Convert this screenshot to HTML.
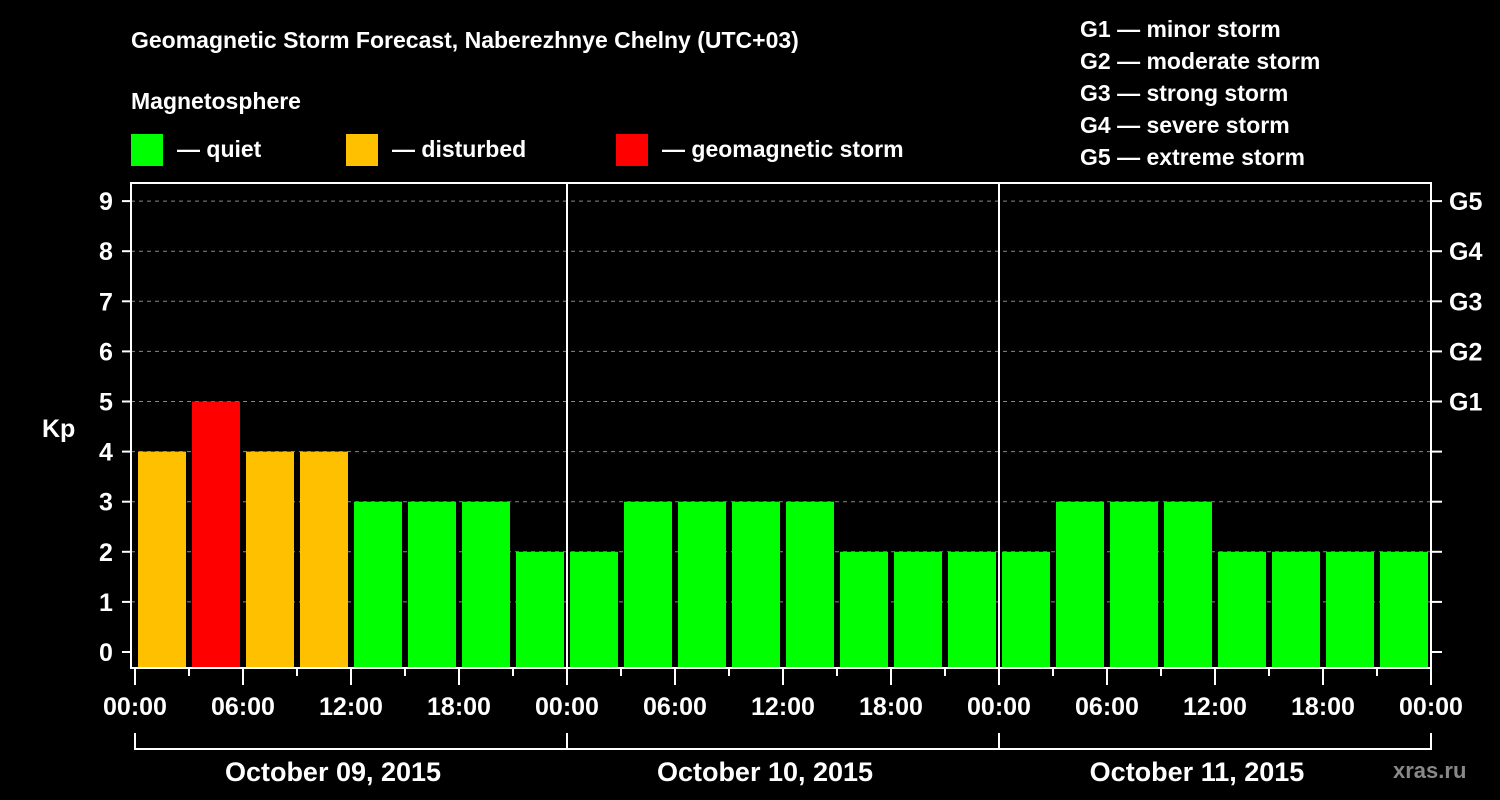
<!DOCTYPE html>
<html><head><meta charset="utf-8"><style>
html,body{margin:0;padding:0;background:#000;}
svg{display:block;font-family:"Liberation Sans",Arial,sans-serif;font-weight:bold;}
</style></head><body>
<svg id="chart" width="1500" height="800" viewBox="0 0 1500 800">
<rect width="1500" height="800" fill="#000"/>
<text x="131" y="48" fill="#fff" font-size="23">Geomagnetic Storm Forecast, Naberezhnye Chelny (UTC+03)</text>
<text x="131" y="109" fill="#fff" font-size="23">Magnetosphere</text>
<g><rect x="131" y="134" width="32" height="32" fill="#00ff00"/><text x="177" y="157" fill="#fff" font-size="23">— quiet</text></g>
<g><rect x="346" y="134" width="32" height="32" fill="#ffc000"/><text x="392" y="157" fill="#fff" font-size="23">— disturbed</text></g>
<g><rect x="616" y="134" width="32" height="32" fill="#ff0000"/><text x="662" y="157" fill="#fff" font-size="23">— geomagnetic storm</text></g>
<g fill="#fff" font-size="23">
<text x="1080" y="37">G1 — minor storm</text>
<text x="1080" y="69">G2 — moderate storm</text>
<text x="1080" y="101">G3 — strong storm</text>
<text x="1080" y="133">G4 — severe storm</text>
<text x="1080" y="165">G5 — extreme storm</text>
</g>
<text x="42" y="437" fill="#fff" font-size="25">Kp</text>
<text x="1393" y="778" fill="#888" font-size="22">xras.ru</text>
<g id="grid"></g><g id="bars"></g><g id="axes"></g>
</svg>
<script>
const kpValues = [4,5,4,4,3,3,3,2, 2,3,3,3,3,2,2,2, 2,3,3,3,2,2,2,2];
const dayLabels = ["October 09, 2015","October 10, 2015","October 11, 2015"];
const hourLabels = ["00:00","06:00","12:00","18:00"];
const gLabels = ["G1","G2","G3","G4","G5"];
const yTicks = [0,1,2,3,4,5,6,7,8,9];

const NS="http://www.w3.org/2000/svg";
const X0=135, DAYW=432, SLOT=54;
const yScale=v=>652-v*50.1;
const xScale=h=>X0+h*(DAYW/24);
const BOTTOM=668, TOP=183, LEFT=131, RIGHT=1431;
function mk(tag,attrs,parent,txt){const e=document.createElementNS(NS,tag);for(const k in attrs)e.setAttribute(k,attrs[k]);if(txt!==undefined)e.textContent=txt;parent.appendChild(e);return e;}
const grid=document.getElementById('grid'),bars=document.getElementById('bars'),axes=document.getElementById('axes');

yTicks.forEach(v=>{
  const y=yScale(v);
  if(v>=1){const l=mk('line',{x1:LEFT,x2:RIGHT,y1:y,y2:y,stroke:'#888','stroke-width':1,'stroke-dasharray':'4,4'},grid);
  
  }
  const t=mk('line',{x1:122,x2:LEFT,y1:y,y2:y,stroke:'#fff','stroke-width':2},axes);
  
  
  const tr=mk('line',{x1:RIGHT,x2:1442,y1:y,y2:y,stroke:'#fff','stroke-width':2},axes);
  
  
  const lb=mk('text',{x:106,y:y+9,fill:'#fff','font-size':25,'text-anchor':'middle'},axes,String(v));
  
  
});
gLabels.forEach((g,i)=>{
  const lb=mk('text',{x:1449,y:yScale(5+i)+9,fill:'#fff','font-size':25},axes,g);
  
  
});

kpValues.forEach((v,i)=>{
  const c=v>=5?'#ff0000':(v>=4?'#ffc000':'#00ff00');
  const x=X0+i*SLOT+3, y=yScale(v);
  const r=mk('rect',{x:x,y:y,width:48,height:BOTTOM-y,fill:c},bars);
  
  
});

const fr=mk('path',{d:`M${LEFT},${TOP}H${RIGHT}V${BOTTOM}H${LEFT}Z`,fill:'none',stroke:'#fff','stroke-width':2},axes);


for(let d=1;d<3;d++){const x=X0+d*DAYW;
  const l=mk('line',{x1:x,x2:x,y1:TOP,y2:BOTTOM,stroke:'#fff','stroke-width':2},axes);
  
  }
for(let h=0;h<=72;h+=3){
  const x=xScale(h);
  const len=(h%6===0)?17:8;
  const t=mk('line',{x1:x,x2:x,y1:BOTTOM,y2:BOTTOM+len,stroke:'#fff','stroke-width':2},axes);
  
  
  if(h%6===0){
    const lb=mk('text',{x:x,y:715,fill:'#fff','font-size':25,'text-anchor':'middle'},axes,hourLabels[(h/6)%4]);
    
    
  }
}
const br=mk('path',{d:`M${X0},733V749H${RIGHT}V733`,fill:'none',stroke:'#fff','stroke-width':2},axes);


dayLabels.forEach((d,i)=>{
  const x=X0+i*DAYW;
  if(i>0){const v=mk('line',{x1:x,x2:x,y1:733,y2:749,stroke:'#fff','stroke-width':2},axes);
  
  }
  const lb=mk('text',{x:x+DAYW/2-18,y:781,fill:'#fff','font-size':27,'text-anchor':'middle'},axes,d);
  
  
});
</script>
</body></html>
